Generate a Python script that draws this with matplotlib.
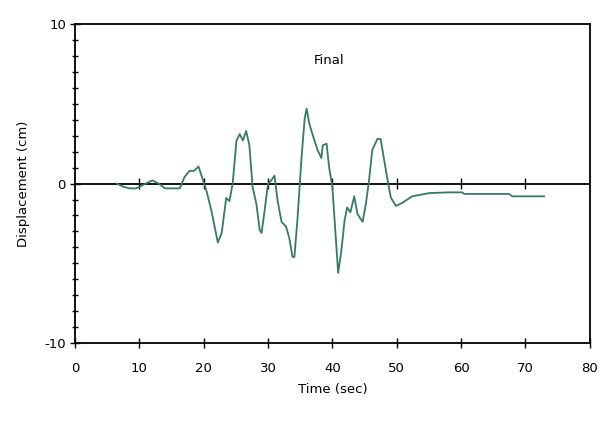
import matplotlib
matplotlib.use("Agg")
import matplotlib.pyplot as plt
from matplotlib.ticker import MultipleLocator

plt.rcParams["axes.unicode_minus"] = False

time_sec = [6.5, 7.5, 8.5, 9.5, 10.0, 10.5, 11.5, 12.0, 12.5, 13.0, 14.0, 15.0, 16.3, 17.0, 17.8,
            18.5, 19.2, 19.9, 20.4, 21.2, 22.2, 22.8, 23.5, 24.0, 24.5, 25.1, 25.6, 26.1, 26.6, 27.1,
            27.6, 28.2, 28.7, 29.0, 29.4, 30.0, 30.5, 31.0, 31.5, 32.1, 32.8, 33.3, 33.8, 34.1, 34.6,
            35.2, 35.7, 36.0, 36.4, 36.9, 37.7, 38.3, 38.5, 39.1, 39.5, 40.0, 40.6, 40.9, 41.4, 41.9,
            42.3, 42.8, 43.4, 43.9, 44.7, 45.2, 45.7, 46.2, 47.0, 47.5, 48.0, 48.5, 49.1, 49.9, 50.9,
            52.4, 55.0, 58.0, 60.2, 60.5, 64.0, 67.4, 68.0, 72.9]
displacement = [0.0, -0.2, -0.3, -0.3, -0.2, -0.1, 0.1, 0.2, 0.1, 0.0, -0.3, -0.3, -0.3, 0.4, 0.8,
                0.8, 1.07, 0.2, -0.4, -1.7, -3.7, -3.1, -0.9, -1.1, 0.0, 2.7, 3.1, 2.7, 3.3, 2.4,
                -0.2, -1.3, -2.9, -3.1, -1.9, 0.0, 0.2, 0.5, -1.1, -2.4, -2.7, -3.4, -4.6, -4.6, -2.1,
                1.6, 4.1, 4.7, 3.8, 3.1, 2.1, 1.6, 2.4, 2.5, 1.0, -0.2, -3.8, -5.6, -4.2, -2.3,
                -1.5, -1.8, -0.8, -1.9, -2.4, -1.3, 0.2, 2.1, 2.8, 2.8, 1.6, 0.4, -0.9, -1.4, -1.2,
                -0.8, -0.6, -0.55, -0.55, -0.65, -0.65, -0.65, -0.8, -0.8]
x_ticks = [0, 10, 20, 30, 40, 50, 60, 70, 80]
y_ticks = [-10, 0, 10]
zero_line_ticks = [10, 20, 30, 40, 50, 60, 70]

fig = plt.figure(figsize=(6.02, 4.23), dpi=100)
ax = fig.add_axes([0.1246, 0.189, 0.855, 0.754])

ax.axhline(0, color="black", lw=1.3, zorder=2)
ax.vlines(zero_line_ticks, -0.35, 0.35, color="black", lw=1.0, zorder=2)
ax.plot(time_sec, displacement, color="#357a67", lw=1.3, zorder=3)

ax.set_xlim(0, 80)
ax.set_ylim(-10, 10)
ax.set_xticks(x_ticks)
ax.set_yticks(y_ticks)
ax.yaxis.set_minor_locator(MultipleLocator(1))
ax.tick_params(axis="x", which="major", direction="inout", length=7, width=1, labelsize=9.5, pad=10)
ax.tick_params(axis="y", which="major", direction="inout", length=7, width=1, labelsize=9.5, pad=3)
ax.tick_params(axis="y", which="minor", direction="inout", length=4, width=1)
for s in ax.spines.values():
    s.set_linewidth(1.3)

ax.set_xlabel("Time (sec)", fontsize=9.5, labelpad=6)
ax.set_ylabel("Displacement (cm)", fontsize=9.5, labelpad=10)
ax.text(39.5, 7.7, "Final", fontsize=9.5, ha="center", va="center")

fig.savefig("out.png", dpi=100)
